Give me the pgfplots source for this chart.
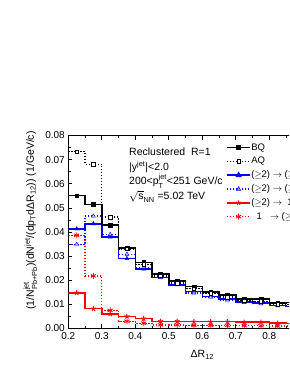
\documentclass[border=0pt]{standalone}
\usepackage{fontspec}
\setmainfont{Liberation Sans}
\usepackage{amsmath}
\usepackage{pgfplots}
\usepackage{pgfplotstable}
\pgfplotsset{compat=1.18}

\pgfplotstableread{
xl   bq     aq     bs     bd     rs     rd
0.20 0.0551 0.0733 0.0413 0.0349 0.0148 0.0386
0.25 0.0515 0.0681 0.0434 0.0466 0.0082 0.0218
0.30 0.0429 0.0462 0.0379 0.0390 0.0060 0.0075
0.35 0.0334 0.0330 0.0290 0.0308 0.0050 0.0030
0.40 0.0274 0.0265 0.0247 0.0254 0.0041 0.0022
0.45 0.0226 0.0218 0.0211 0.0215 0.0030 0.0015
0.50 0.0197 0.0188 0.0181 0.0183 0.0030 0.0015
0.55 0.0174 0.0165 0.0153 0.0147 0.0028 0.0013
0.60 0.0152 0.0145 0.0133 0.0130 0.0028 0.0013
0.65 0.0139 0.0130 0.0122 0.0118 0.0028 0.0012
0.70 0.0122 0.0115 0.0110 0.0108 0.0026 0.0012
0.75 0.0122 0.0112 0.0106 0.0103 0.0026 0.0011
0.80 0.0106 0.0100 0.0096 0.0094 0.0022 0.0010
0.85 0.0108 0.0099 0.0092 0.0090 0.0020 0.0010
0.90 0.0098 0.0092 0.0088 0.0086 0.0019 0.0009
0.95 0.0092 0.0088 0.0084 0.0082 0.0018 0.0009
1.00 0.0092 0.0088 0.0084 0.0082 0.0018 0.0009
}\datatable

\begin{document}
\begin{tikzpicture}[font=\fontsize{10.5}{12}\selectfont]
\path[use as bounding box] (0,0) rectangle (289pt,374pt);
\clip (0,0) rectangle (289pt,374pt);
\begin{axis}[
  at={(68.3pt,45.5pt)}, anchor=south west,
  scale only axis, width=268pt, height=193pt,
  xmin=0.2, xmax=1.0, ymin=0, ymax=0.08,
  xtick={0.2,0.3,0.4,0.5,0.6,0.7,0.8,0.9,1.0},
  ytick={0,0.01,0.02,0.03,0.04,0.05,0.06,0.07,0.08},
  minor x tick num=1, minor y tick num=1,
  tick align=inside,
  major tick length=4pt, minor tick length=2.5pt,
  axis line style={line width=0.8pt},
  every tick/.style={line width=0.7pt, black},
  tick label style={font=\fontsize{10}{12}\selectfont},
  /pgf/number format/assume math mode=true,
  yticklabel style={/pgf/number format/.cd,fixed,fixed zerofill,precision=2},
  xticklabel style={/pgf/number format/.cd,fixed,fixed zerofill,precision=1},
  scaled y ticks=false,
  xlabel={ΔR$_{\text{12}}$},
  xlabel style={at={(axis description cs:0.5,-0.137)}, anchor=center},
  ylabel={(1/N$^{\text{jet}}_{\text{Pb+Pb}}$)(dN$^{\text{jet}}$/(dp$_{\text{T}}$dΔR$_{\text{12}}$)) (1/GeV/c)},
  ylabel style={at={(axis description cs:-0.142,0.56)}, anchor=center, rotate=0},
  legend image code/.code={\draw[mark repeat=2,mark phase=2,#1] plot coordinates {(0pt,0pt)(11.5pt,0pt)(23pt,0pt)};},
  legend style={at={(axis description cs:0.589,0.964)}, anchor=north west, draw=none, fill=none,
    font=\fontsize{9.5}{11}\selectfont, row sep=3.8pt, inner sep=0pt,
    nodes={text height=7pt, text depth=2pt, inner sep=0.5pt}},
  legend cell align=left,
]
% step lines
\addplot[blue, line width=1.5pt, const plot mark left, forget plot] table[x=xl,y=bs]{\datatable};
\addplot[blue, line width=1.3pt, dash pattern=on 1.3pt off 1.7pt, const plot mark left, forget plot] table[x=xl,y=bd]{\datatable};
\addplot[red, line width=1.5pt, const plot mark left, forget plot] table[x=xl,y=rs]{\datatable};
\addplot[red, line width=1.3pt, dash pattern=on 1.3pt off 1.7pt, const plot mark left, forget plot] table[x=xl,y=rd]{\datatable};
\addplot[black, line width=1.5pt, const plot mark left, forget plot] table[x=xl,y=bq]{\datatable};
\addplot[black, line width=1.3pt, dash pattern=on 1.3pt off 1.7pt, const plot mark left, forget plot] table[x=xl,y=aq]{\datatable};
% markers
\addplot[blue, only marks, mark=triangle*, mark size=2.3pt, restrict x to domain=0.2:1.0, forget plot] table[x expr=\thisrow{xl}+0.025,y=bs]{\datatable};
\addplot[blue, only marks, mark=triangle*, mark options={fill=blue!25, draw=blue}, mark size=2.3pt, restrict x to domain=0.2:1.0, forget plot] table[x expr=\thisrow{xl}+0.025,y=bd]{\datatable};
\addplot[red, only marks, mark=star, mark options={line width=0.9pt}, mark size=2.6pt, restrict x to domain=0.2:1.0, forget plot] table[x expr=\thisrow{xl}+0.025,y=rs]{\datatable};
\addplot[red, only marks, mark=asterisk, mark options={line width=0.8pt}, mark size=3pt, restrict x to domain=0.2:1.0, forget plot] table[x expr=\thisrow{xl}+0.025,y=rd]{\datatable};
\addplot[black, only marks, mark=square*, mark size=1.8pt, restrict x to domain=0.2:1.0, forget plot] table[x expr=\thisrow{xl}+0.025,y=bq]{\datatable};
\addplot[black, only marks, mark=square*, mark options={fill=white, line width=0.6pt}, mark size=1.8pt, restrict x to domain=0.2:1.0, forget plot] table[x expr=\thisrow{xl}+0.025,y=aq]{\datatable};
% legend
\addlegendimage{black, line width=1.5pt, mark=square*, mark size=1.8pt}
\addlegendentry{BQ}
\addlegendimage{black, line width=1.3pt, dash pattern=on 1.3pt off 1.7pt, mark=square*, mark options={solid, fill=white, line width=0.6pt}, mark size=1.8pt}
\addlegendentry{AQ}
\addlegendimage{blue, line width=1.5pt, mark=triangle*, mark size=2.3pt}
\addlegendentry{($\geq$2) $\rightarrow$ ($\geq$2)}
\addlegendimage{blue, line width=1.3pt, dash pattern=on 1.3pt off 1.7pt, mark=triangle*, mark options={solid, fill=blue!25, draw=blue, line width=0.6pt}, mark size=2.3pt}
\addlegendentry{($\geq$2) $\rightarrow$ ($\geq$2)}
\addlegendimage{red, line width=1.5pt, mark=star, mark options={solid, line width=0.9pt}, mark size=2.6pt}
\addlegendentry{($\geq$2) $\rightarrow$ \ 1}
\addlegendimage{red, line width=1.3pt, dash pattern=on 1.3pt off 1.7pt, mark=asterisk, mark options={solid, line width=0.8pt}, mark size=3pt}
\addlegendentry{\ \ 1 \ \ $\rightarrow$ ($\geq$2)}
\end{axis}
\node[anchor=base west, inner sep=0pt] at (129pt,218pt) {Reclustered\ \ R=1};
\node[anchor=base west, inner sep=0pt] at (129pt,203.5pt) {|y$^{\text{jet}}$|<2.0};
\node[anchor=base west, inner sep=0pt] at (129pt,189pt) {200<p$^{\text{jet}}_{\text{T}}$<251 GeV/c};
\node[anchor=base west, inner sep=0pt] at (129pt,174pt) {$\sqrt{\text{s}}_{\text{NN}}$ =5.02 TeV};
\end{tikzpicture}
\end{document}
